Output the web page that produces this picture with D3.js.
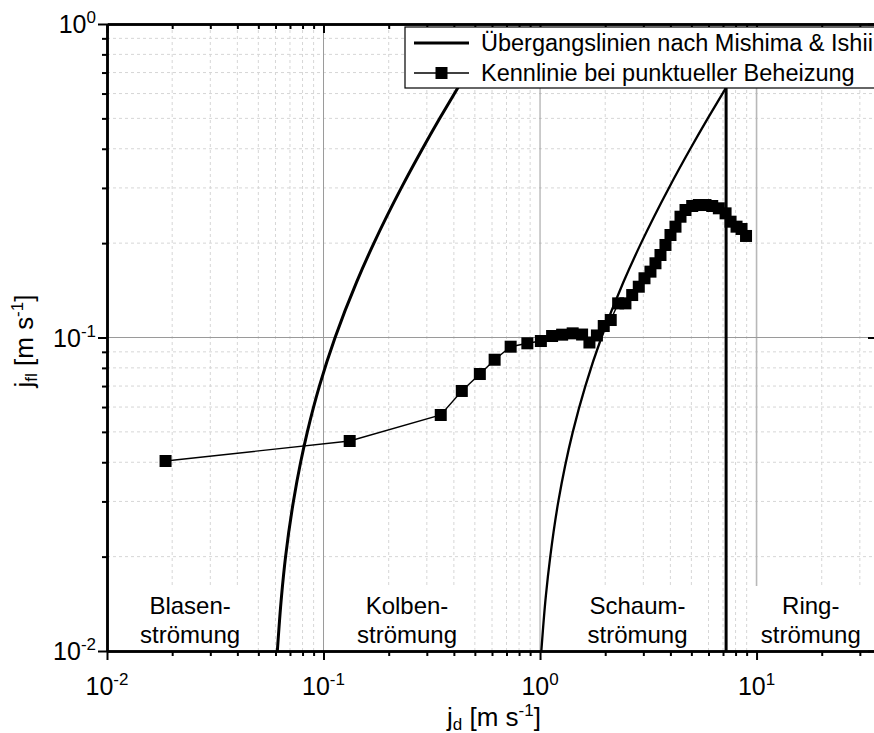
<!DOCTYPE html>
<html>
<head>
<meta charset="utf-8">
<script src="https://cdn.jsdelivr.net/npm/d3@7"></script>
<style>
  body { margin: 0; background: #fff; }
  svg { display: block; }
  text { font-family: "Liberation Sans", Arial, sans-serif; fill: #000; }
</style>
</head>
<body>
<svg id="chart" width="874" height="733"></svg>
<script>
// ---- axis ticks (decades) ----
const xMajor = [0.01, 0.1, 1, 10];
const xMajorExp = ["-2", "-1", "0", "1"];
const yMajor = [0.01, 0.1, 1];
const yMajorExp = ["-2", "-1", "0"];

// ---- flow-regime transition lines after Mishima & Ishii ----
// bubbly -> slug
const bubbleSlugJd  = [0.0612, 0.0640, 0.0668, 0.0726, 0.0784, 0.0842, 0.0957, 0.1131, 0.142, 0.1709, 0.2287, 0.2865, 0.3443, 0.4194];
const bubbleSlugJfl = [0.010, 0.015, 0.020, 0.030, 0.040, 0.050, 0.070, 0.100, 0.150, 0.200, 0.300, 0.400, 0.500, 0.630];
// slug -> churn
const slugChurnJd   = [1.014, 1.064, 1.115, 1.215, 1.417, 1.619, 1.921, 2.425, 2.929, 3.937, 4.945, 5.953, 7.234];
const slugChurnJfl  = [0.010, 0.015, 0.020, 0.030, 0.050, 0.070, 0.100, 0.150, 0.200, 0.300, 0.400, 0.500, 0.627];
// churn -> annular
const churnAnnularJd  = [7.234, 7.234];
const churnAnnularJfl = [0.627, 0.010];

// ---- measured characteristic with point heating ----
const measJd = [0.01864, 0.1321, 0.3479, 0.4352, 0.5272, 0.6170, 0.7316, 0.8739, 1.009, 1.137,
                1.265, 1.415, 1.564, 1.691, 1.831, 1.969, 2.121, 2.295, 2.480, 2.665,
                2.858, 3.037, 3.236, 3.413, 3.600, 3.796, 4.004, 4.223, 4.454, 4.697,
                5.045, 5.411, 5.811, 6.242, 6.696, 7.193, 7.585, 8.083, 8.524, 8.942];
const measJfl = [0.04037, 0.04676, 0.05660, 0.06752, 0.07648, 0.08493, 0.09347, 0.09583, 0.09745, 0.1011,
                 0.1021, 0.1031, 0.1022, 0.0964, 0.1015, 0.1088, 0.1137, 0.1285, 0.1285, 0.1366,
                 0.1452, 0.1545, 0.1622, 0.1725, 0.1833, 0.1973, 0.2123, 0.2257, 0.2428, 0.2551,
                 0.2627, 0.2646, 0.2646, 0.2627, 0.2583, 0.2489, 0.2341, 0.2257, 0.2219, 0.2108];

// ---- flow regime names ----
const regionTop = ["Blasen-", "Kolben-", "Schaum-", "Ring-"];
const regionBottom = ["strömung", "strömung", "strömung", "strömung"];
const regionJd = [0.0242, 0.243, 2.82, 17.8];

const legendLabels = ["Übergangslinien nach Mishima & Ishii", "Kennlinie bei punktueller Beheizung"];

// ---- layout ----
const L = 107, R = 877, T = 24, B = 651;
const svg = d3.select("#chart");
const x = d3.scaleLog().domain([0.01, 36]).range([L, R]);
const y = d3.scaleLog().domain([0.01, 1]).range([B, T]);

const xMinor = x.ticks().filter(v => !xMajor.some(m => Math.abs(m - v) / m < 1e-6));
const yMinor = y.ticks().filter(v => !yMajor.some(m => Math.abs(m - v) / m < 1e-6));

// ---- grid ----
const grid = svg.append("g");
grid.selectAll(".gxm").data(xMinor).join("line")
  .attr("x1", d => x(d)).attr("x2", d => x(d)).attr("y1", T).attr("y2", B)
  .attr("stroke", "#d6d6d6").attr("stroke-width", 1).attr("stroke-dasharray", "3,3");
grid.selectAll(".gym").data(yMinor).join("line")
  .attr("y1", d => y(d)).attr("y2", d => y(d)).attr("x1", L).attr("x2", R)
  .attr("stroke", "#d6d6d6").attr("stroke-width", 1).attr("stroke-dasharray", "3,3");
grid.selectAll(".gxM").data(xMajor.slice(1, 3)).join("line")
  .attr("x1", d => x(d)).attr("x2", d => x(d)).attr("y1", T).attr("y2", B)
  .attr("stroke", "#9a9a9a").attr("stroke-width", 1);
grid.append("line").attr("x1", x(10)).attr("x2", x(10)).attr("y1", T).attr("y2", B)
  .attr("stroke", "#b8b8b8").attr("stroke-width", 1.6);
grid.selectAll(".gyM").data(yMajor.slice(1, 2)).join("line")
  .attr("y1", d => y(d)).attr("y2", d => y(d)).attr("x1", L).attr("x2", R)
  .attr("stroke", "#9a9a9a").attr("stroke-width", 1);

// ---- regime labels (white boxes hide the grid behind them) ----
const reg = svg.append("g").attr("font-size", 24).attr("text-anchor", "middle");
regionJd.forEach((v, i) => {
  const cx = x(v);
  const t = reg.append("g");
  const t1 = t.append("text").attr("x", cx).attr("y", 614).text(regionTop[i]);
  const t2 = t.append("text").attr("x", cx).attr("y", 643).text(regionBottom[i]);
  const w = Math.max(t1.node().getComputedTextLength(), t2.node().getComputedTextLength());
  t.insert("rect", "text").attr("x", cx - w / 2 - 8).attr("y", 586).attr("width", w + 16).attr("height", B - 587)
    .attr("fill", "#fff");
});

// ---- transition lines ----
const line = d3.line().x(d => x(d[0])).y(d => y(d[1]));
const smooth = d3.line().x(d => x(d[0])).y(d => y(d[1])).curve(d3.curveMonotoneY);
svg.append("path").datum(d3.zip(bubbleSlugJd, bubbleSlugJfl)).attr("d", smooth)
  .attr("fill", "none").attr("stroke", "#000").attr("stroke-width", 3);
svg.append("path").datum(d3.zip(slugChurnJd, slugChurnJfl)).attr("d", smooth)
  .attr("fill", "none").attr("stroke", "#000").attr("stroke-width", 2.3);
svg.append("path").datum(d3.zip(churnAnnularJd, churnAnnularJfl)).attr("d", line)
  .attr("fill", "none").attr("stroke", "#000").attr("stroke-width", 3);

// ---- measured data ----
const meas = d3.zip(measJd, measJfl);
svg.append("path").datum(meas).attr("d", line)
  .attr("fill", "none").attr("stroke", "#000").attr("stroke-width", 1.4);
const ms = 12;
svg.append("g").selectAll("rect").data(meas).join("rect")
  .attr("x", d => x(d[0]) - ms / 2).attr("y", d => y(d[1]) - ms / 2)
  .attr("width", ms).attr("height", ms).attr("fill", "#000");

// ---- axes ----
function styleAxis(g, w) {
  g.select(".domain").attr("stroke-width", w);
  g.selectAll(".tick line").attr("stroke-width", 2);
  g.selectAll(".tick text").remove();
}
// bottom
svg.append("g").attr("transform", `translate(0,${B})`)
  .call(d3.axisBottom(x).tickValues(xMinor).tickSize(5).tickSizeOuter(0).tickFormat(""))
  .call(g => styleAxis(g, 2.5));
svg.append("g").attr("transform", `translate(0,${B})`)
  .call(d3.axisBottom(x).tickValues(xMajor).tickSize(9).tickSizeOuter(0).tickFormat(""))
  .call(g => styleAxis(g, 2.5));
// top (ticks point into the plot)
svg.append("g").attr("transform", `translate(0,${T})`)
  .call(d3.axisBottom(x).tickValues(xMinor).tickSize(5).tickSizeOuter(0).tickFormat(""))
  .call(g => styleAxis(g, 2.5));
svg.append("g").attr("transform", `translate(0,${T})`)
  .call(d3.axisBottom(x).tickValues(xMajor).tickSize(9).tickSizeOuter(0).tickFormat(""))
  .call(g => styleAxis(g, 2.5));
// left
svg.append("g").attr("transform", `translate(${L},0)`)
  .call(d3.axisLeft(y).tickValues(yMinor).tickSize(5).tickSizeOuter(0).tickFormat(""))
  .call(g => styleAxis(g, 2.5));
svg.append("g").attr("transform", `translate(${L},0)`)
  .call(d3.axisLeft(y).tickValues(yMajor).tickSize(9).tickSizeOuter(0).tickFormat(""))
  .call(g => styleAxis(g, 2.5));
// right (ticks point into the plot)
svg.append("g").attr("transform", `translate(${R},0)`)
  .call(d3.axisRight(y).tickValues(yMajor).tickSize(-9).tickSizeOuter(0).tickFormat(""))
  .call(g => styleAxis(g, 2.5));

// tick labels with exponents
const xl = svg.append("g").attr("font-size", 25).attr("text-anchor", "middle");
xMajor.forEach((v, i) => {
  const t = xl.append("text").attr("x", x(v)).attr("y", 695);
  t.append("tspan").text("10");
  t.append("tspan").attr("font-size", 17).attr("dy", -10).text(xMajorExp[i]);
});
const yl = svg.append("g").attr("font-size", 25).attr("text-anchor", "end");
yMajor.forEach((v, i) => {
  const t = yl.append("text").attr("x", 96).attr("y", y(v) + 9);
  t.append("tspan").text("10");
  t.append("tspan").attr("font-size", 17).attr("dy", -10).text(yMajorExp[i]);
});

// axis titles
const xt = svg.append("text").attr("x", 494).attr("y", 726).attr("font-size", 26).attr("text-anchor", "middle");
xt.append("tspan").text("j");
xt.append("tspan").attr("font-size", 17).attr("dy", 4).text("d");
xt.append("tspan").attr("dy", -4).text(" [m s");
xt.append("tspan").attr("font-size", 17).attr("dy", -10).text("-1");
xt.append("tspan").attr("dy", 10).text("]");

const yt = svg.append("text").attr("transform", "translate(33,341) rotate(-90)")
  .attr("font-size", 26).attr("text-anchor", "middle");
yt.append("tspan").text("j");
yt.append("tspan").attr("font-size", 17).attr("dy", 4).text("fl");
yt.append("tspan").attr("dy", -4).text(" [m s");
yt.append("tspan").attr("font-size", 17).attr("dy", -10).text("-1");
yt.append("tspan").attr("dy", 10).text("]");

// ---- legend ----
const lg = svg.append("g");
lg.append("rect").attr("x", 405).attr("y", 27).attr("width", 490).attr("height", 61)
  .attr("fill", "#fff").attr("stroke", "#000").attr("stroke-width", 1.2);
lg.append("line").attr("x1", 414).attr("x2", 469).attr("y1", 43).attr("y2", 43)
  .attr("stroke", "#000").attr("stroke-width", 3);
lg.append("line").attr("x1", 414).attr("x2", 469).attr("y1", 73).attr("y2", 73)
  .attr("stroke", "#000").attr("stroke-width", 1.4);
lg.append("rect").attr("x", 441.5 - ms / 2).attr("y", 73 - ms / 2).attr("width", ms).attr("height", ms).attr("fill", "#000");
legendLabels.forEach((s, i) => {
  lg.append("text").attr("x", 481).attr("y", 51 + i * 30).attr("font-size", 23.5).text(s);
});
</script>
</body>
</html>
